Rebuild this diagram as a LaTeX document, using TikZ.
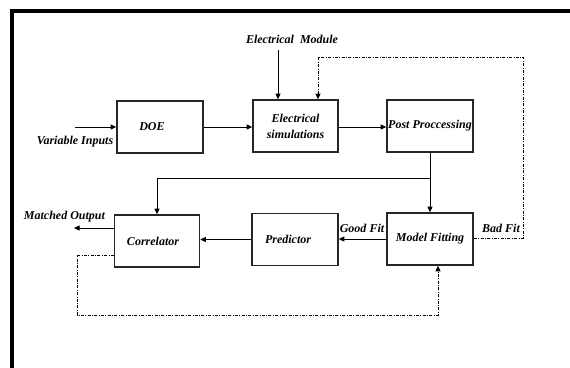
\documentclass[tikz,border=0pt]{standalone}
\usepackage{fontspec}
\setmainfont{Liberation Serif}
\usetikzlibrary{arrows.meta}
\begin{document}
\begin{tikzpicture}[x=1pt,y=-1pt,
  every node/.style={font=\fontsize{12}{16}\selectfont\bfseries\itshape},
  block/.style={draw=black!85,line width=1.6pt,minimum width=86pt,minimum height=52pt,inner sep=0pt,align=center},
  lbl/.style={inner sep=0pt},
  arr/.style={-{Triangle[length=5.5pt,width=5pt]},line width=0.8pt},
  dd/.style={line width=0.7pt,dash pattern=on 3pt off 1.5pt on 0.7pt off 1.5pt}]
\useasboundingbox (0,0) rectangle (570,367);
% outer frame
\draw[line width=4pt] (12,372) -- (12,11) -- (575,11);

% blocks
\node[block] (doe)  at (160,127)   {\kern-16pt DOE};
\node[block,minimum width=85pt] (elec) at (295.5,126) {Electrical\\ simulations};
\node[block] (post) at (430,126)   {\raisebox{3pt}{Post Proccessing}};
\node[block] (fit)  at (430,239)   {Model Fitting};
\node[block] (pred) at (295,239.5) {\kern-14pt Predictor};
\node[block,minimum width=85pt] (corr) at (157,241) {\kern-8pt Correlator};

% free labels
\node[lbl] (emod) at (292,39)  {Electrical\ \ Module};
\node[lbl] (vin)  at (75,142)  {Variable Inputs};
\node[lbl] (mout) at (64.5,217) {Matched Output};
\node[lbl] (good) at (362,228) {Good Fit};
\node[lbl] (bad)  at (501,228) {Bad Fit};

% connector end points
\coordinate (vinS) at (75,127);
\coordinate (emodS) at (278,50);
\coordinate (br) at (430,178);
\coordinate (moutE) at (74,228);
\coordinate (loopTR) at (523,57);
\coordinate (loopTL) at (318,57);
\coordinate (loopBL) at (77,315);
\coordinate (loopBR) at (438,315);

% forward flow
\draw[arr] (vinS) -- (doe.west);
\draw[arr] (doe.east) -- (doe.east -| elec.west);
\draw[arr] ([yshift=-1pt]elec.east) -- ([yshift=-1pt]elec.east -| post.west);
\draw[arr] (emodS) -- (emodS |- elec.north);
\draw[arr] (post.south) -- (fit.north);
\draw[arr] (br) -| (corr.north);
\draw[arr] (fit.west) -- (fit.west -| pred.east);
\draw[arr] (pred.west) -- (pred.west -| corr.east);
\draw[arr] ([yshift=13pt]corr.west) -- (moutE);

% feedback loops
\draw[dd,arr] ([yshift=1pt]fit.east) -| (loopTR) -- (loopTL) -- (loopTL |- elec.north);
\draw[dd,arr] ([yshift=-14pt]corr.west) -| (loopBL) -- (loopBR) -- (loopBR |- fit.south);
\end{tikzpicture}
\end{document}
